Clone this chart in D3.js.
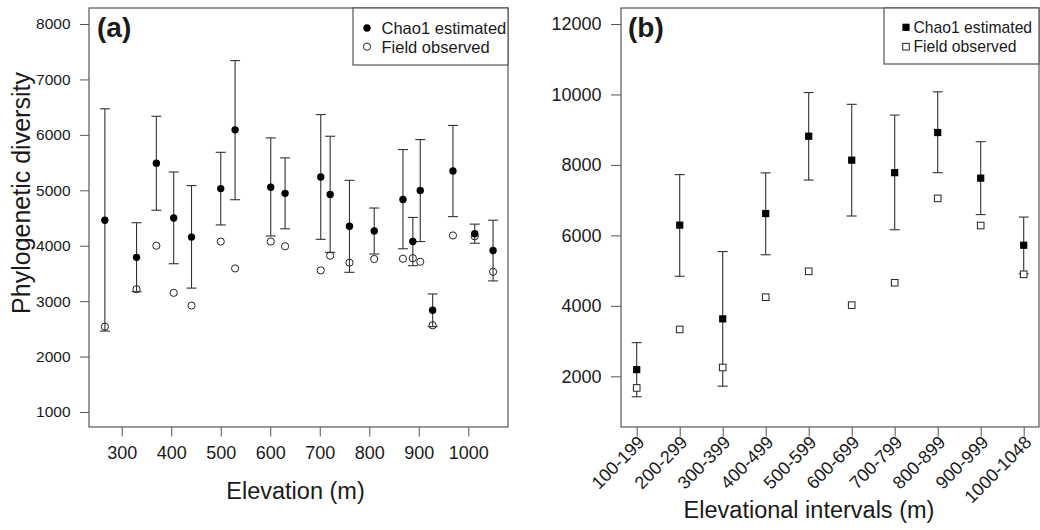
<!DOCTYPE html>
<html>
<head>
<meta charset="utf-8">
<script src="https://cdn.jsdelivr.net/npm/d3@7"></script>
<style>
  body { margin: 0; background: #fff; }
  text { font-family: "Liberation Sans", Arial, sans-serif; fill: #1a1a1a; }
</style>
</head>
<body>
<div id="chart"></div>
<script>
var width = 1040
var height = 530

// panel (a): single sites
const elevA   = [266, 330, 370, 405, 441, 500, 529, 601, 630, 702, 721, 760, 810, 868, 888, 903, 928, 969, 1013, 1050]
const chaoA   = [4460, 3790, 5490, 4500, 4155, 5030, 6090, 5055, 4945, 5240, 4925, 4350, 4265, 4835, 4075, 4995, 2835, 5350, 4215, 3915]
const chaoLoA = [2460, 3170, 4640, 3675, 3235, 4375, 4830, 4175, 4305, 4115, 3880, 3520, 3850, 3945, 3640, 4075, 2540, 4525, 4045, 3365]
const chaoHiA = [6470, 4415, 6335, 5330, 5085, 5685, 7340, 5945, 5585, 6365, 5975, 5180, 4680, 5735, 4510, 5915, 3130, 6170, 4390, 4460]
const obsA    = [2540, 3215, 4000, 3150, 2920, 4075, 3590, 4075, 3990, 3555, 3820, 3695, 3760, 3765, 3775, 3710, 2565, 4185, 4170, 3530]
const xTicksA = [300, 400, 500, 600, 700, 800, 900, 1000]
const yTicksA = [1000, 2000, 3000, 4000, 5000, 6000, 7000, 8000]

// panel (b): elevational intervals
const intervalsB = ["100-199", "200-299", "300-399", "400-499", "500-599", "600-699", "700-799", "800-899", "900-999", "1000-1048"]
const chaoB   = [2190, 6290, 3630, 6620, 8815, 8135, 7780, 8920, 7625, 5720]
const chaoLoB = [1420, 4840, 1720, 5450, 7570, 6550, 6160, 7780, 6590, 4910]
const chaoHiB = [2955, 7725, 5540, 7775, 10055, 9720, 9415, 10075, 8660, 6520]
const obsB    = [1670, 3330, 2250, 4245, 4980, 4020, 4655, 7050, 6280, 4895]
const yTicksB = [2000, 4000, 6000, 8000, 10000, 12000]

const legendLabels = ["Chao1 estimated", "Field observed"]

var svg = d3.select("#chart")
  .append("svg")
    .attr("width", width)
    .attr("height", height)

const barColor = "#333"
const fmt = d3.format("d")

// ---------- panel (a) ----------
const boxA = {left: 89, right: 508, top: 8, bottom: 427}

const xA = d3.scaleLinear().domain([300, 1000]).range([121.7, 468.3])
const yA = d3.scaleLinear().domain([1000, 8000]).range([412, 24])

const gA = svg.append("g")

gA.append("g")
  .attr("transform", `translate(${boxA.left},0)`)
  .call(d3.axisLeft(yA).tickValues(yTicksA).tickFormat(fmt).tickSize(9).tickPadding(9.5))
  .call(g => g.select(".domain").remove())
  .call(g => g.selectAll("line").attr("stroke", "#555"))
  .call(g => g.selectAll("text").attr("font-size", 15.5).attr("font-family", null))

gA.append("g")
  .attr("transform", `translate(0,${boxA.bottom})`)
  .call(d3.axisBottom(xA).tickValues(xTicksA).tickFormat(fmt).tickSize(9.5).tickPadding(9.5))
  .call(g => g.select(".domain").remove())
  .call(g => g.selectAll("line").attr("stroke", "#555"))
  .call(g => g.selectAll("text").attr("font-size", 18).attr("font-family", null))

gA.append("rect")
  .attr("x", boxA.left).attr("y", boxA.top)
  .attr("width", boxA.right - boxA.left).attr("height", boxA.bottom - boxA.top)
  .attr("fill", "none").attr("stroke", "#555").attr("stroke-width", 1.2)

const idxA = d3.range(elevA.length)

// error bars
const errA = gA.selectAll(".err").data(idxA).enter().append("g")
errA.append("line")
  .attr("x1", i => xA(elevA[i])).attr("x2", i => xA(elevA[i]))
  .attr("y1", i => yA(chaoLoA[i])).attr("y2", i => yA(chaoHiA[i]))
  .attr("stroke", barColor).attr("stroke-width", 1.1)
errA.append("line")
  .attr("x1", i => xA(elevA[i]) - 5).attr("x2", i => xA(elevA[i]) + 5)
  .attr("y1", i => yA(chaoHiA[i])).attr("y2", i => yA(chaoHiA[i]))
  .attr("stroke", barColor).attr("stroke-width", 1.1)
errA.append("line")
  .attr("x1", i => xA(elevA[i]) - 5).attr("x2", i => xA(elevA[i]) + 5)
  .attr("y1", i => yA(chaoLoA[i])).attr("y2", i => yA(chaoLoA[i]))
  .attr("stroke", barColor).attr("stroke-width", 1.1)

gA.selectAll(".obs").data(idxA).enter().append("circle")
  .attr("cx", i => xA(elevA[i])).attr("cy", i => yA(obsA[i]))
  .attr("r", 3.6).attr("fill", "none").attr("stroke", "#222").attr("stroke-width", 1)

gA.selectAll(".chao").data(idxA).enter().append("circle")
  .attr("cx", i => xA(elevA[i])).attr("cy", i => yA(chaoA[i]))
  .attr("r", 3.7).attr("fill", "#000")

gA.append("text")
  .attr("x", 97).attr("y", 37)
  .attr("font-size", 28).attr("font-weight", "bold")
  .text("(a)")

gA.append("text")
  .attr("x", (boxA.left + boxA.right) / 2 - 3).attr("y", 499)
  .attr("text-anchor", "middle").attr("font-size", 23.5)
  .text("Elevation (m)")

gA.append("text")
  .attr("transform", "translate(30,193) rotate(-90)")
  .attr("text-anchor", "middle").attr("font-size", 25)
  .text("Phylogenetic diversity")

// legend (a)
const legA = gA.append("g")
legA.append("rect")
  .attr("x", 353).attr("y", boxA.top).attr("width", boxA.right - 353).attr("height", 57)
  .attr("fill", "#fff").attr("stroke", "#555").attr("stroke-width", 1.2)
legA.append("circle").attr("cx", 367).attr("cy", 28).attr("r", 3.7).attr("fill", "#000")
legA.append("circle").attr("cx", 367).attr("cy", 46.7).attr("r", 3.6)
  .attr("fill", "none").attr("stroke", "#222")
legA.selectAll(".lt").data(legendLabels).enter().append("text")
  .attr("x", 381.5).attr("y", (d, i) => 28 + i * 18.7)
  .attr("dy", "0.36em").attr("font-size", 16.5)
  .text(d => d)

// ---------- panel (b) ----------
const boxB = {left: 621, right: 1039, top: 8, bottom: 427}

const xB = d3.scalePoint().domain(intervalsB).range([636.7, 1023.7])
const yB = d3.scaleLinear().domain([2000, 12000]).range([376.3, 24])

const gB = svg.append("g")

gB.append("g")
  .attr("transform", `translate(${boxB.left},0)`)
  .call(d3.axisLeft(yB).tickValues(yTicksB).tickFormat(fmt).tickSize(10).tickPadding(9.5))
  .call(g => g.select(".domain").remove())
  .call(g => g.selectAll("line").attr("stroke", "#555"))
  .call(g => g.selectAll("text").attr("font-size", 18).attr("font-family", null))

const xAxisB = gB.append("g")
  .attr("transform", `translate(0,${boxB.bottom})`)
  .call(d3.axisBottom(xB).tickSize(9.5).tickPadding(0))
  .call(g => g.select(".domain").remove())
  .call(g => g.selectAll("line").attr("stroke", "#555"))
xAxisB.selectAll("text")
  .attr("font-size", 18).attr("font-family", null)
  .attr("text-anchor", "end")
  .attr("dy", "0.35em")
  .attr("y", 0)
  .attr("transform", "translate(4,12) rotate(-45)")

gB.append("rect")
  .attr("x", boxB.left).attr("y", boxB.top)
  .attr("width", boxB.right - boxB.left).attr("height", boxB.bottom - boxB.top)
  .attr("fill", "none").attr("stroke", "#555").attr("stroke-width", 1.2)

const idxB = d3.range(intervalsB.length)

const errB = gB.selectAll(".err").data(idxB).enter().append("g")
errB.append("line")
  .attr("x1", i => xB(intervalsB[i])).attr("x2", i => xB(intervalsB[i]))
  .attr("y1", i => yB(chaoLoB[i])).attr("y2", i => yB(chaoHiB[i]))
  .attr("stroke", barColor).attr("stroke-width", 1.1)
errB.append("line")
  .attr("x1", i => xB(intervalsB[i]) - 5).attr("x2", i => xB(intervalsB[i]) + 5)
  .attr("y1", i => yB(chaoHiB[i])).attr("y2", i => yB(chaoHiB[i]))
  .attr("stroke", barColor).attr("stroke-width", 1.1)
errB.append("line")
  .attr("x1", i => xB(intervalsB[i]) - 5).attr("x2", i => xB(intervalsB[i]) + 5)
  .attr("y1", i => yB(chaoLoB[i])).attr("y2", i => yB(chaoLoB[i]))
  .attr("stroke", barColor).attr("stroke-width", 1.1)

gB.selectAll(".obs").data(idxB).enter().append("rect")
  .attr("x", i => xB(intervalsB[i]) - 3.3).attr("y", i => yB(obsB[i]) - 3.3)
  .attr("width", 6.6).attr("height", 6.6)
  .attr("fill", "#fff").attr("stroke", "#222").attr("stroke-width", 1)

gB.selectAll(".chao").data(idxB).enter().append("rect")
  .attr("x", i => xB(intervalsB[i]) - 3.6).attr("y", i => yB(chaoB[i]) - 3.6)
  .attr("width", 7.2).attr("height", 7.2).attr("fill", "#000")

gB.append("text")
  .attr("x", 628).attr("y", 37)
  .attr("font-size", 28).attr("font-weight", "bold")
  .text("(b)")

gB.append("text")
  .attr("x", 809).attr("y", 518)
  .attr("text-anchor", "middle").attr("font-size", 23.5)
  .text("Elevational intervals (m)")

// legend (b)
const legB = gB.append("g")
legB.append("rect")
  .attr("x", 884).attr("y", boxB.top).attr("width", boxB.right - 884).attr("height", 56)
  .attr("fill", "#fff").attr("stroke", "#555").attr("stroke-width", 1.2)
legB.append("rect").attr("x", 906 - 3.6).attr("y", 27.3 - 3.6)
  .attr("width", 7.2).attr("height", 7.2).attr("fill", "#000")
legB.append("rect").attr("x", 906 - 3.3).attr("y", 46.7 - 3.3)
  .attr("width", 6.6).attr("height", 6.6).attr("fill", "#fff").attr("stroke", "#222")
legB.selectAll(".lt").data(legendLabels).enter().append("text")
  .attr("x", 913.5).attr("y", (d, i) => 27.3 + i * 19.4)
  .attr("dy", "0.36em").attr("font-size", 15.7)
  .text(d => d)
</script>
</body>
</html>
